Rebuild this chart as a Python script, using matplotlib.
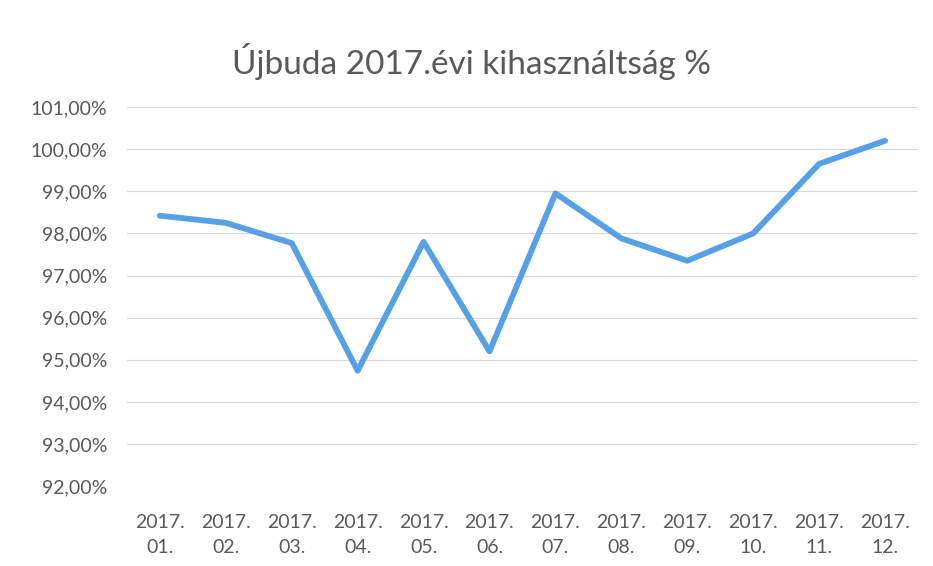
import numpy as np
import matplotlib.pyplot as plt
from matplotlib.ticker import FuncFormatter

months = ['01.', '02.', '03.', '04.', '05.', '06.', '07.', '08.', '09.', '10.', '11.', '12.']
year = '2017.'
usage = [98.42, 98.25, 97.77, 94.74, 97.80, 95.20, 98.95, 97.88, 97.35, 98.00, 99.65, 100.20]
y_ticks = np.arange(92, 102, 1)

plt.rcParams['font.family'] = ['Lato', 'DejaVu Sans']
txt_color = '#595959'

fig = plt.figure(figsize=(9.33, 5.66), dpi=100)
ax = fig.add_axes([0.136, 0.141, 0.848, 0.670])

x = np.arange(len(months))
ax.plot(x, usage, color='#55A0E6', lw=4.2, solid_joinstyle='round', solid_capstyle='round', zorder=3)

ax.set_xlim(-0.5, len(months) - 0.5)
ax.set_ylim(92, 101)
ax.set_yticks(y_ticks)
ax.yaxis.set_major_formatter(FuncFormatter(lambda v, p: f'{v:.2f}%'.replace('.', ',')))
ax.set_xticks(x)
ax.set_xticklabels([year + '\n' + m for m in months], linespacing=1.55)

ax.tick_params(axis='both', length=0, labelsize=14, labelcolor=txt_color)
ax.tick_params(axis='x', pad=20)
ax.tick_params(axis='y', pad=14)
ax.grid(axis='y', color='#D9D9D9', lw=0.8)
ax.set_axisbelow(True)
for s in ax.spines.values():
    s.set_visible(False)

fig.text(0.505, 0.892, 'Újbuda 2017.évi kihasználtság %', ha='center', va='center',
         fontsize=24, color=txt_color)

plt.savefig('out.png', dpi=100)
